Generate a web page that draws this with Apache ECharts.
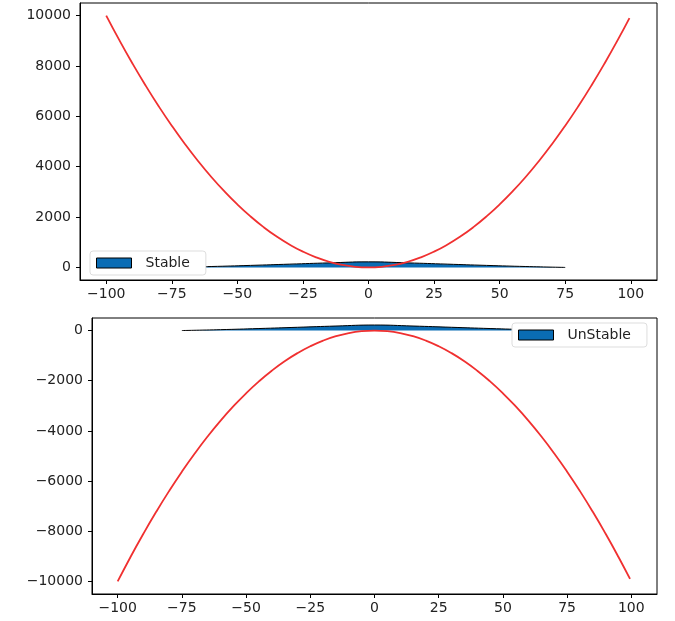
<!DOCTYPE html>
<html><head><meta charset="utf-8">
<script src="https://cdn.jsdelivr.net/npm/echarts@6/dist/echarts.min.js"></script>
<style>html,body{margin:0;padding:0;background:#fff}#c{width:675px;height:621px}</style>
</head><body><div id="c"></div>
<script>
// Red parabola, top plot (x, y)
const curveX = [-100,-95,-90,-85,-80,-75,-70,-65,-60,-55,-50,-45,-40,-35,-30,-25,-20,-15,-10,-5,0,5,10,15,20,25,30,35,40,45,50,55,60,65,70,75,80,85,90,95,99.5];
const curveTopY = [10000,9025,8100,7225,6400,5625,4900,4225,3600,3025,2500,2025,1600,1225,900,625,400,225,100,25,0,25,100,225,400,625,900,1225,1600,2025,2500,3025,3600,4225,4900,5625,6400,7225,8100,9025,9900];
const curveBottomY = [-10000,-9025,-8100,-7225,-6400,-5625,-4900,-4225,-3600,-3025,-2500,-2025,-1600,-1225,-900,-625,-400,-225,-100,-25,0,-25,-100,-225,-400,-625,-900,-1225,-1600,-2025,-2500,-3025,-3600,-4225,-4900,-5625,-6400,-7225,-8100,-9025,-9900];
// Filled shape (Stable / UnStable)
const shapeX = [-75,-60,-45,-30,-15,0,15,30,45,60,75];
const shapeY = [0,35,80,130,180,220,180,130,80,35,0];
const xTicks = [-100,-75,-50,-25,0,25,50,75,100];
const yTicksTop = [0,2000,4000,6000,8000,10000];
const yTicksBottom = [-10000,-8000,-6000,-4000,-2000,0];

const pairs = (xs, ys) => xs.map((x, i) => [x, ys[i]]);
const minus = v => String(v).replace('-', '\u2212');
const FONT = 'DejaVu Sans';
const RED = '#f03030';
const BLUE = '#0a6cb4';

function xAxis(gi) {
  return {
    type: 'value', gridIndex: gi, min: -110, max: 110,
    axisLine: {show: true, onZero: false, lineStyle: {color: '#000'}},
    axisTick: {show: true, customValues: xTicks, length: 4, lineStyle: {color: '#000'}},
    axisLabel: {customValues: xTicks, formatter: minus, color: '#222', fontFamily: FONT, fontSize: 14, margin: 7},
    splitLine: {show: false}
  };
}
function yAxis(gi, min, max, ticks) {
  return {
    type: 'value', gridIndex: gi, min: min, max: max,
    axisLine: {show: true, onZero: false, lineStyle: {color: '#000'}},
    axisTick: {show: true, customValues: ticks, length: 4, lineStyle: {color: '#000'}},
    axisLabel: {customValues: ticks, formatter: minus, color: '#222', fontFamily: FONT, fontSize: 14, margin: 9},
    splitLine: {show: false}
  };
}
const legendBase = {
  orient: 'vertical', itemWidth: 35, itemHeight: 10, itemGap: 8, icon: 'rect',
  backgroundColor: '#fff', borderColor: '#ddd', borderWidth: 1, borderRadius: 3,
  padding: [5, 16, 5, 6],
  textStyle: {fontFamily: FONT, fontSize: 14, color: '#222', padding: [0, 0, 0, 9]}
};

const chart = echarts.init(document.getElementById('c'));
chart.setOption({
  animation: false,
  grid: [
    {left: 80, top: 3, width: 577, height: 277, show: true, borderColor: '#000', borderWidth: 1, backgroundColor: 'transparent'},
    {left: 92, top: 318, width: 565, height: 276, show: true, borderColor: '#000', borderWidth: 1, backgroundColor: 'transparent'}
  ],
  xAxis: [xAxis(0), xAxis(1)],
  yAxis: [yAxis(0, -500, 10500, yTicksTop), yAxis(1, -10500, 500, yTicksBottom)],
  legend: [
    Object.assign({}, legendBase, {data: [{name: 'Stable', itemStyle: {color: BLUE, borderColor: '#000', borderWidth: 1}}], left: 90, top: 251}),
    Object.assign({}, legendBase, {data: [{name: 'UnStable', itemStyle: {color: BLUE, borderColor: '#000', borderWidth: 1}}], left: 512, top: 323})
  ],
  series: [
    {name: 'Stable', type: 'line', xAxisIndex: 0, yAxisIndex: 0, data: pairs(shapeX, shapeY), smooth: true, symbol: 'none',
     lineStyle: {color: '#000', width: 1}, itemStyle: {color: BLUE}, areaStyle: {color: BLUE, opacity: 1, origin: 0}, z: 2},
    {name: 'curveTop', type: 'line', xAxisIndex: 0, yAxisIndex: 0, data: pairs(curveX, curveTopY), smooth: true, symbol: 'none',
     lineStyle: {color: RED, width: 1.8}, z: 3},
    {name: 'UnStable', type: 'line', xAxisIndex: 1, yAxisIndex: 1, data: pairs(shapeX, shapeY), smooth: true, symbol: 'none',
     lineStyle: {color: '#000', width: 1}, itemStyle: {color: BLUE}, areaStyle: {color: BLUE, opacity: 1, origin: 0}, z: 2},
    {name: 'curveBottom', type: 'line', xAxisIndex: 1, yAxisIndex: 1, data: pairs(curveX, curveBottomY), smooth: true, symbol: 'none',
     lineStyle: {color: RED, width: 1.8}, z: 3}
  ]
});
</script></body></html>
